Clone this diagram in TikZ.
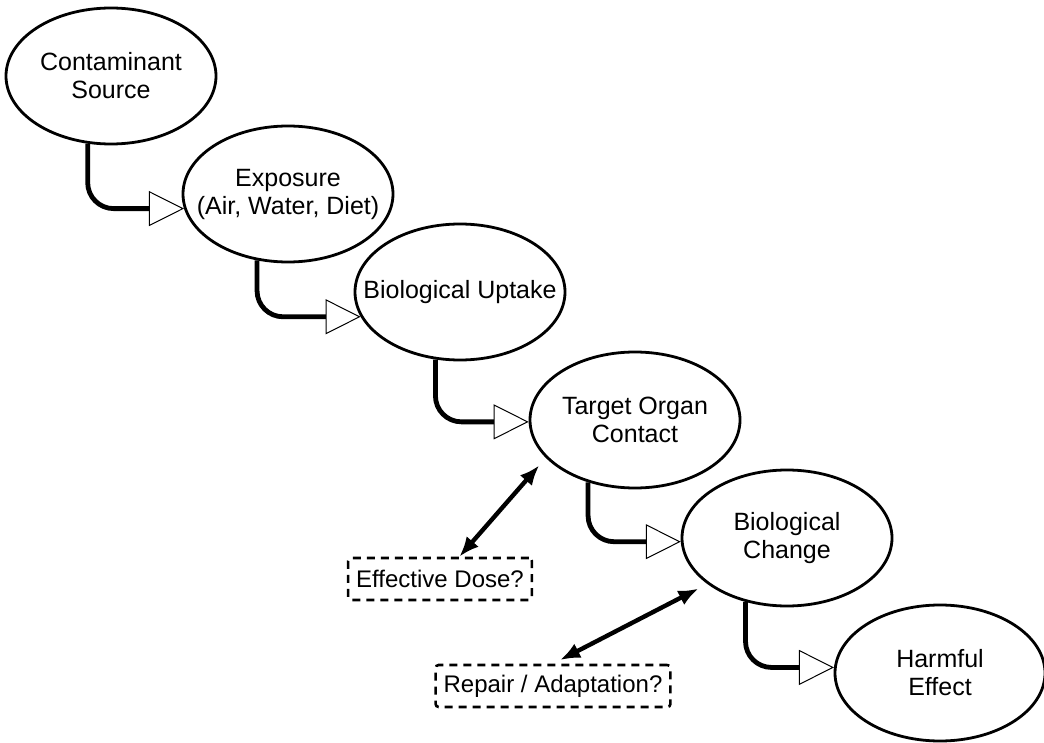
\documentclass[tikz,border=0pt]{standalone}
\usepackage{fontspec}
\setmainfont{Liberation Sans}
\usepackage{tikz}
\usetikzlibrary{shapes.geometric,arrows.meta}
\colorlet{stageLine}{black}
\colorlet{flowLine}{black}
\colorlet{guessLine}{black}

\begin{document}
\begin{tikzpicture}[
  x=0.5pt, y=-0.5pt,
  stage/.style={
    ellipse,
    draw=stageLine,
    line width=1.4pt,
    minimum width=105pt,
    minimum height=68pt,
    inner sep=0pt,
  },
  stage text/.style={
    align=center,
    inner sep=0pt,
    font=\fontsize{12.5}{14}\selectfont,
  },
  guess/.style={
    draw=guessLine,
    line width=1.3pt,
    dash pattern=on 4pt off 3pt,
    rounded corners=1.5pt,
    minimum height=21pt,
    inner xsep=4pt,
    font=\fontsize{12}{14}\selectfont,
  },
  flow/.style={
    draw=flowLine,
    line width=2.4pt,
    rounded corners=13pt,
    -{Triangle[open,length=17.5pt,width=17.5pt,line width=0.5pt]},
  },
  link/.style={
    draw=flowLine,
    line width=2.2pt,
    {Latex[length=10pt,width=8pt]}-{Latex[length=10pt,width=8pt]},
  }
]
\useasboundingbox (0,0) rectangle (1044,743);
\foreach \n/\p/\t in {
  e1/{(111,76)}/{Contaminant\\Source},
  e2/{(288,194)}/{Exposure\\(Air, Water, Diet)},
  e3/{(460,292)}/{Biological Uptake},
  e4/{(635,420)}/{Target Organ\\Contact},
  e5/{(787,538)}/{Biological\\Change},
  e6/{(940,673)}/{Harmful\\Effect}} {
  \node[stage] (\n) at \p {};
  \node[stage text] (\n txt) at (\n) {\t};
}
\foreach \src/\dst/\sa/\da in {e1/e2/251/188,e2/e3/245/194,e3/e4/250/181,e4/e5/233/182,e5/e6/237/177} {
  \draw[flow] (\src.\sa) |- (\dst.\da);
}
\node[guess] (dose) at (440,579) {Effective Dose?};
\node[guess] (repair) at (553,686) {Repair / Adaptation?};
\draw[link,shorten >=5pt] (dose.49) -- (e4.203);
\draw[link,shorten <=4pt,shorten >=5pt] (repair.north) -- (e5.210);
\end{tikzpicture}
\end{document}
